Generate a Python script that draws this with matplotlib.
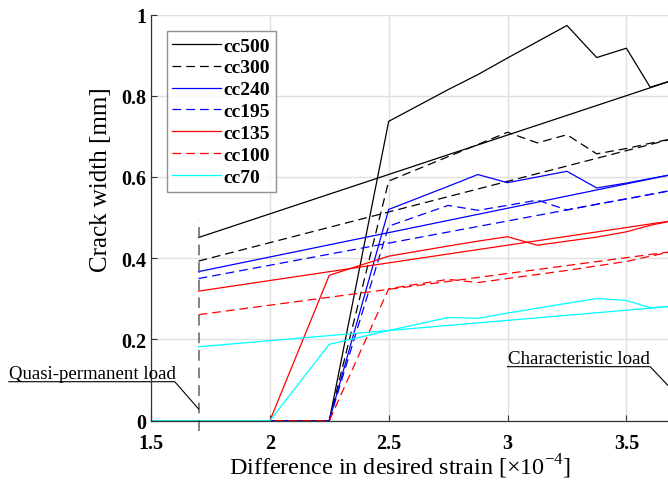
import matplotlib
matplotlib.use("Agg")
import matplotlib.pyplot as plt

plt.rcParams["font.family"] = ["Liberation Serif", "DejaVu Serif"]
plt.rcParams["mathtext.fontset"] = "custom"
plt.rcParams["mathtext.rm"] = "Liberation Serif"

# Series names and styles
names = ["cc500", "cc300", "cc240", "cc195", "cc135", "cc100", "cc70"]
colors = ["black", "black", "#0000ff", "#0000ff", "#ff0000", "#ff0000", "#00ffff"]
dashed = [False, True, False, True, False, True, False]

# Quasi-permanent and characteristic load levels (strain, x10^-4)
x_quasi = 1.7
x_char = 3.7

# Simplified (linear) crack width estimate between the two load levels [mm]
lin_start = [0.451, 0.393, 0.367, 0.350, 0.319, 0.261, 0.182]
lin_end = [0.839, 0.695, 0.607, 0.568, 0.493, 0.417, 0.282]

# Computed crack widths along the strain steps [mm]
strain = [1.5, 2.0, 2.25, 2.5, 2.75, 2.875, 3.0, 3.125, 3.25, 3.375, 3.5, 3.6, 3.7]
w_cc500 = [0, 0, 0, 0.737, 0.815, 0.852, 0.893, 0.933, 0.973, 0.894, 0.917, 0.821, 0.839]
w_cc300 = [0, 0, 0, 0.590, 0.650, 0.680, 0.710, 0.684, 0.704, 0.657, 0.670, 0.683, 0.695]
w_cc240 = [0, 0, 0, 0.520, 0.577, 0.606, 0.586, 0.600, 0.614, 0.573, 0.585, 0.596, 0.607]
w_cc195 = [0, 0, 0, 0.479, 0.530, 0.518, 0.530, 0.543, 0.519, 0.533, 0.546, 0.557, 0.568]
w_cc135 = [0, 0, 0.358, 0.405, 0.430, 0.442, 0.453, 0.432, 0.442, 0.452, 0.465, 0.481, 0.493]
w_cc100 = [0, 0, 0, 0.325, 0.348, 0.340, 0.350, 0.360, 0.370, 0.381, 0.392, 0.405, 0.417]
w_cc70 = [0, 0, 0.188, 0.222, 0.254, 0.252, 0.265, 0.277, 0.289, 0.301, 0.296, 0.278, 0.282]
widths = [w_cc500, w_cc300, w_cc240, w_cc195, w_cc135, w_cc100, w_cc70]

x_ticks = [1.5, 2, 2.5, 3, 3.5]
x_ticklabels = ["1.5", "2", "2.5", "3", "3.5"]
y_ticks = [0, 0.2, 0.4, 0.6, 0.8, 1.0]
y_ticklabels = ["0", "0.2", "0.4", "0.6", "0.8", "1"]

fig = plt.figure(figsize=(6.68, 4.81), dpi=100)
ax = fig.add_axes([151 / 668, 1 - 421.7 / 481, 517 / 668, 406.2 / 481])

dash = (0, (7, 4))
lw = 0.9
handles = []
for name, col, dsh, w0, w1, w in zip(names, colors, dashed, lin_start, lin_end, widths):
    ls = dash if dsh else "-"
    h, = ax.plot([x_quasi, x_char], [w0, w1], color=col, lw=lw, linestyle=ls, label=name)
    ax.plot(strain, w, color=col, lw=lw, linestyle=ls)
    handles.append(h)

# Quasi-permanent load marker
ax.plot([x_quasi, x_quasi], [-0.025, 0.495], color="#606060", lw=1.1,
        linestyle=(0, (7, 4.5)), clip_on=False)

ax.set_xlim(1.5, 3.675)
ax.set_ylim(0, 1)
ax.set_xticks(x_ticks)
ax.set_xticklabels(x_ticklabels)
ax.set_yticks(y_ticks)
ax.set_yticklabels(y_ticklabels)
ax.tick_params(direction="in", length=4, width=0.8, color="#333333",
               labelsize=14.5, pad=9)
ax.tick_params(axis="y", pad=3.5)
for lab in ax.get_xticklabels() + ax.get_yticklabels():
    lab.set_fontweight("bold")
ax.grid(True, color="#e0e0e0", lw=1.0)
ax.set_axisbelow(True)
for side in ("top", "right"):
    ax.spines[side].set_visible(False)
for side in ("left", "bottom"):
    ax.spines[side].set_color("#333333")
    ax.spines[side].set_linewidth(0.9)

ax.set_xlabel(r"Difference in desired strain [$\times$10$^{-4}$]", fontsize=17.4)
ax.set_ylabel("Crack width [mm]", fontsize=18)
ax.xaxis.set_label_coords(0.482, -0.076)
ax.yaxis.set_label_coords(-0.075, 0.597)

leg = ax.legend(handles=handles, loc="upper left", bbox_to_anchor=(0.030, 0.959),
                borderaxespad=0, frameon=True, fancybox=False, handlelength=2.5,
                handletextpad=0.15, labelspacing=0.22, borderpad=0.3,
                prop={"size": 14, "weight": "bold"})
leg.get_frame().set_edgecolor("#777777")
leg.get_frame().set_linewidth(1.0)

# Load level annotations with underline leaders
def load_note(text, x_text, y_text, x_end, x_pt, y_pt):
    ax.text(x_text, y_text + 0.008, text, fontsize=13.6, ha="left", va="baseline",
            clip_on=False)
    ax.plot([x_text, x_end, x_pt], [y_text, y_text, y_pt], color="black",
            lw=0.8, clip_on=False)

load_note("Quasi-permanent load", 0.902, 0.096, 1.60, x_quasi, 0.029)
load_note("Characteristic load", 3.0, 0.133, 3.60, 3.726, 0.055)

fig.savefig("out.png", dpi=100)
